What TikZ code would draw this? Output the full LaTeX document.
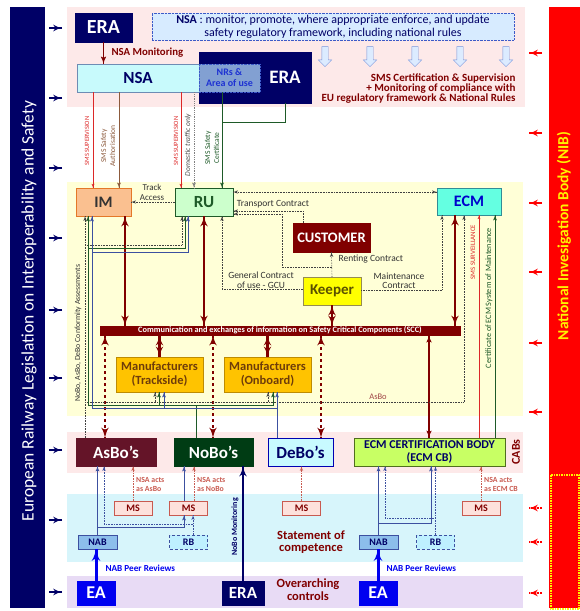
\documentclass[tikz,border=0pt]{standalone}
\usepackage{fontspec}
\setmainfont{Carlito}
\usepackage{tikz}
\usetikzlibrary{arrows}
\usetikzlibrary{decorations.markings}
\usetikzlibrary{shapes.arrows}
\definecolor{eranavy}{RGB}{0,0,102}
\definecolor{pinkband}{RGB}{253,233,233}
\definecolor{yellowband}{RGB}{255,255,215}
\definecolor{blueband}{RGB}{215,245,251}
\definecolor{lilacband}{RGB}{232,219,245}
\definecolor{maroon}{RGB}{128,0,0}
\definecolor{supred}{RGB}{220,40,40}
\definecolor{authbrown}{RGB}{140,90,60}
\definecolor{certgreen}{RGB}{30,90,40}
\definecolor{framefill}{RGB}{215,235,255}
\definecolor{frameblue}{RGB}{60,90,200}
\definecolor{nsafill}{RGB}{200,250,252}
\definecolor{nsadraw}{RGB}{110,140,180}
\definecolor{nrsfill}{RGB}{130,160,210}
\definecolor{nrstext}{RGB}{30,50,210}
\definecolor{imfill}{RGB}{250,192,144}
\definecolor{imdraw}{RGB}{228,120,40}
\definecolor{rufill}{RGB}{204,255,204}
\definecolor{ecmfill}{RGB}{100,255,225}
\definecolor{ecmdraw}{RGB}{50,140,150}
\definecolor{keeperfill}{RGB}{255,255,0}
\definecolor{keeperdraw}{RGB}{150,140,80}
\definecolor{keepertext}{RGB}{90,80,0}
\definecolor{mfrfill}{RGB}{255,195,0}
\definecolor{mfrdraw}{RGB}{190,140,0}
\definecolor{mfrtext}{RGB}{110,60,10}
\definecolor{asbofill}{RGB}{100,20,40}
\definecolor{nobofill}{RGB}{0,60,20}
\definecolor{debofill}{RGB}{200,250,255}
\definecolor{ecmcbfill}{RGB}{200,255,100}
\definecolor{ecmcbdraw}{RGB}{80,110,30}
\definecolor{msfill}{RGB}{253,225,220}
\definecolor{msdraw}{RGB}{200,90,80}
\definecolor{nabfill}{RGB}{140,190,235}
\definecolor{nabdraw}{RGB}{60,80,160}
\definecolor{rbfill}{RGB}{190,240,255}
\definecolor{eablue}{RGB}{0,0,240}
\definecolor{nibred}{RGB}{255,0,0}
\definecolor{hollowfill}{RGB}{220,235,255}
\definecolor{hollowdraw}{RGB}{120,150,220}
\definecolor{asbotext}{RGB}{160,70,70}
\newcommand{\fsz}[2]{\fontsize{#1}{#2}\selectfont}
\tikzset{->/.style = {decoration={markings,
                                  mark=at position 1 with {\arrow{latex'}}},
                      postaction={decorate}},
         <->/.style = {decoration={markings,
                                   mark=at position 0 with {\arrowreversed{latex'}},
                                   mark=at position 1 with {\arrow{latex'}}},
                       postaction={decorate}},
         box/.style = {draw, inner sep=1pt, align=center, font=\bfseries},
         dotline/.style = {densely dotted, semithick, black!75},
         bundlegreen/.style = {thick, certgreen},
         bundleblue/.style = {thick, nabdraw},
         msline/.style = {densely dotted, semithick, msdraw},
         nabline/.style = {thick, nabdraw},
         rbline/.style = {densely dotted, semithick, nabdraw},
         msbox/.style = {box, fill=msfill, draw=msdraw, text=maroon,
                         minimum width=38pt, minimum height=14pt, font=\fsz{10}{11}\bfseries},
         nabbox/.style = {box, fill=nabfill, draw=nabdraw, text=eranavy,
                          minimum width=39pt, minimum height=14pt, font=\fsz{10}{11}\bfseries},
         rbbox/.style = {box, fill=rbfill, draw=nabdraw, densely dashed, text=eranavy,
                         minimum width=38pt, minimum height=14pt, font=\fsz{10}{11}\bfseries},
         cabbox/.style = {box, minimum height=28pt, font=\fsz{17}{19}\bfseries},
         actslbl/.style = {anchor=west, inner sep=0pt, align=left, text=msdraw,
                           font=\fsz{7.8}{8.5}\bfseries},
         hollowdown/.style = {single arrow, draw=hollowdraw, fill=hollowfill, rotate=-90,
                              minimum height=20pt, inner xsep=0pt, inner ysep=3pt,
                              single arrow head extend=3.5pt}}
\begin{document}
\begin{tikzpicture}[x=1pt, y=-1pt]
      \useasboundingbox (0,0) rectangle (580,611);
      \fill[pinkband] (67,7) rectangle (525,107);
      \fill[yellowband] (67,182) rectangle (523,416);
      \fill[pinkband] (67,432) rectangle (523,473);
      \fill[blueband] (67,494) rectangle (523,562);
      \fill[lilacband] (67,576) rectangle (523,608);
      \fill[eranavy] (10,7) rectangle (45,608);
      \fill[nibred] (549,7) rectangle (580,608);
      \draw[yellow, densely dotted, line width=1.5pt] (551,475) rectangle (579,609);
      \node[rotate=90, text=white, font=\fsz{17.5}{20}] (eulaw) at (29,311)
        {European Railway Legislation on Interoperability and Safety};
      \node[rotate=90, text=yellow, font=\fsz{15.5}{18}\bfseries] (nib) at (564,236)
        {National Invesigation Body (NIB)};
      \foreach \y in {28,98,168,238,310,378,450,520,592}
        \draw[->, eranavy, line width=2pt] (49,\y) -- (62,\y);
      \foreach \y in {53,133,203,272,343,412}
        \draw[->, nibred, line width=2pt] (542,\y) -- (529,\y);
      \foreach \y in {508,542,593}
        \draw[->, nibred, line width=2pt, densely dotted] (542,\y) -- (529,\y);

      \node[box, fill=eranavy, draw=eranavy, text=white, minimum width=57pt, minimum height=29pt,
            font=\fsz{20}{22}\bfseries] (eratop) at (103.5,27.5) {ERA};
      \node[box, draw=frameblue, densely dotted, fill=framefill, minimum width=362pt, minimum height=27pt,
            text=eranavy, font=\fsz{12}{13}] (nsaframe) at (333,26.5)
        {\textbf{NSA} : monitor, promote, where appropriate enforce, and update\\
         safety regulatory framework, including national rules};
      \node[box, fill=nsafill, draw=nsadraw, text=eranavy, minimum width=122pt, minimum height=28pt,
            font=\fsz{17}{19}\bfseries] (nsa) at (138,78) {NSA};
      \node[box, fill=eranavy, draw=eranavy, minimum width=112pt, minimum height=51pt] (erabig) at (255,77.5) {};
      \node[text=white, font=\fsz{19}{21}\bfseries] (erabiglbl) at (285,77) {ERA};
      \node[box, fill=nrsfill, draw=frameblue, densely dotted, text=nrstext, minimum width=61pt,
            minimum height=28pt, font=\fsz{10}{11}\bfseries] (nrs) at (229.5,78) {NRs \&\\Area of use};
      \foreach \x [count=\i] in {325,370,415,460,506}
        \node[hollowdown] (down\i) at (\x,55) {};
      \node[anchor=east, align=right, text=maroon, font=\fsz{11}{10}\bfseries] (smscert) at (519,89)
        {SMS Certification \& Supervision\\+ Monitoring of compliance with\\EU regulatory framework \& National Rules};

      \node[rotate=90, text=supred, font=\fsz{6.5}{7.5}] (supim) at (87,141) {SMS SUPERVISION};
      \node[rotate=90, text=authbrown, font=\fsz{7.5}{9}, align=center] (authim) at (108,146) {SMS Safety\\Authorisation};
      \node[rotate=90, text=supred, font=\fsz{6.5}{7.5}] (supru) at (176,141) {SMS SUPERVISION};
      \node[rotate=90, text=black!70, font=\fsz{7.5}{8}\itshape] (domestic) at (188,145) {Domestic traffic only};
      \node[rotate=90, text=certgreen, font=\fsz{7.5}{9}, align=center] (certru) at (212,148) {SMS Safety\\Certificate};

      \node[box, fill=imfill, draw=imdraw, text=black!80, minimum width=55pt, minimum height=28pt,
            font=\fsz{16}{18}\bfseries] (im) at (103.5,202) {IM};
      \node[box, fill=rufill, draw=certgreen, text=certgreen, minimum width=58pt, minimum height=28pt,
            font=\fsz{17}{19}\bfseries] (ru) at (204,202) {RU};
      \node[box, fill=ecmfill, draw=ecmdraw, text=blue!80!black, minimum width=64pt, minimum height=27pt,
            font=\fsz{16}{18}\bfseries] (ecm) at (469,201.5) {ECM};
      \node[box, fill=maroon, draw=maroon, text=white, minimum width=77pt, minimum height=29pt,
            font=\fsz{14.5}{16}\bfseries] (customer) at (331.5,237.5) {CUSTOMER};
      \node[box, fill=keeperfill, draw=keeperdraw, text=keepertext, minimum width=58pt, minimum height=28pt,
            font=\fsz{15}{17}\bfseries] (keeper) at (332,291) {Keeper};
      \node[box, fill=maroon, draw=maroon, text=white, inner sep=0pt, minimum width=360pt, minimum height=9pt,
            font=\fsz{8.3}{8.5}\bfseries] (scc) at (280,330.5)
        {Communication and exchanges of information on Safety Critical Components (SCC)};
      \node[box, fill=mfrfill, draw=mfrdraw, text=mfrtext, minimum width=87pt, minimum height=35pt,
            font=\fsz{12.5}{14}\bfseries] (mtrack) at (159.5,374.5) {Manufacturers\\(Trackside)};
      \node[box, fill=mfrfill, draw=mfrdraw, text=mfrtext, minimum width=87pt, minimum height=35pt,
            font=\fsz{12.5}{14}\bfseries] (monboard) at (267.5,374.5) {Manufacturers\\(Onboard)};

      \node[align=center, text=black!80, font=\fsz{9}{10}] (trackacc) at (152,192) {Track\\Access};
      \node[text=black!80, font=\fsz{9.5}{10}] (transport) at (273,204) {Transport Contract};
      \node[anchor=west, text=black!80, font=\fsz{9.5}{10}] (renting) at (335,259) {Renting Contract};
      \node[align=center, text=black!80, font=\fsz{9.5}{9.5}] (gcu) at (261,280) {General Contract\\of use - GCU};
      \node[align=center, text=black!80, font=\fsz{9.5}{9.5}] (maint) at (399,281) {Maintenance\\Contract};
      \node[rotate=90, text=black!80, font=\fsz{7.8}{8}] (conform) at (78,333) {NoBo, AsBo, DeBo Conformity Assessments};
      \node[text=asbotext, font=\fsz{8.5}{9}] (asbolbl) at (378,397) {AsBo};
      \node[rotate=90, text=supred, font=\fsz{6.8}{7}] (surv) at (473,252) {SMS SURVEILLANCE};
      \node[rotate=90, text=certgreen, font=\fsz{8.2}{9}] (certecm) at (489,298) {Certificate of ECM System of Maintenance};

      \node[cabbox, fill=asbofill, draw=asbofill, text=white, minimum width=80pt] (asbo) at (116,452) {AsBo's};
      \node[cabbox, fill=nobofill, draw=nobofill, text=white, minimum width=79pt] (nobo) at (213.5,452) {NoBo's};
      \node[cabbox, fill=debofill, draw=blue!70!black, text=eranavy, minimum width=65pt] (debo) at (300.5,452) {DeBo's};
      \node[cabbox, fill=ecmcbfill, draw=ecmcbdraw, text=eranavy, minimum width=151pt,
            font=\fsz{12}{13}\bfseries] (ecmcb) at (429.5,452) {ECM CERTIFICATION BODY\\(ECM CB)};
      \node[rotate=90, text=maroon, font=\fsz{12}{13}\bfseries] (cabs) at (516,452) {CABs};

      \node[msbox] (ms1) at (133,508) {MS};
      \node[msbox] (ms2) at (188.5,508) {MS};
      \node[msbox] (ms3) at (301.5,508) {MS};
      \node[msbox] (ms4) at (481,508) {MS};
      \node[nabbox] (nab1) at (97.5,542) {NAB};
      \node[rbbox] (rb1) at (188.5,542) {RB};
      \node[nabbox] (nab2) at (378.5,542) {NAB};
      \node[rbbox] (rb2) at (435.5,542) {RB};
      \node[actslbl] (acts1) at (136,484.5) {NSA acts\\as AsBo};
      \node[actslbl] (acts2) at (197,484.5) {NSA acts\\as NoBo};
      \node[actslbl] (acts4) at (484,484.5) {NSA acts\\as ECM CB};
      \node[align=center, text=maroon, font=\fsz{12.5}{12.5}\bfseries] (soc) at (311,542) {Statement of\\competence};
      \node[align=center, text=maroon, font=\fsz{12.5}{12.5}\bfseries] (overarch) at (308,589.5) {Overarching\\controls};

      \node[box, fill=eablue, draw=eablue, text=white, minimum width=38pt, minimum height=24pt,
            font=\fsz{18}{20}\bfseries] (ea1) at (96,593) {EA};
      \node[box, fill=eablue, draw=eablue, text=white, minimum width=38pt, minimum height=24pt,
            font=\fsz{18}{20}\bfseries] (ea2) at (378,593) {EA};
      \node[box, fill=eranavy, draw=eranavy, text=white, minimum width=42pt, minimum height=24pt,
            font=\fsz{17}{19}\bfseries] (erabot) at (243,593) {ERA};
      \node[anchor=west, text=eablue, font=\fsz{9.2}{10}\bfseries] (peer1) at (102,568) {NAB Peer Reviews};
      \node[anchor=west, text=eablue, font=\fsz{9.2}{10}\bfseries] (peer2) at (383,568) {NAB Peer Reviews};
      \node[rotate=90, text=eranavy, font=\fsz{8}{9}\bfseries] (nobomon) at (235,527) {NoBo Monitoring};

      \draw[->, maroon, line width=1.5pt] (eratop.south) -- (eratop.south |- nsa.north);
      \node[anchor=west, text=maroon, font=\fsz{10.8}{11}\bfseries] (nsamon) at (108,52.5) {NSA Monitoring};
      \draw[->, supred] (93,0 |- nsa.south) -- (93,0 |- im.north);
      \draw[->, authbrown, thick] (119,0 |- nsa.south) -- (119,0 |- im.north);
      \draw[->, supred] (181,0 |- nsa.south) -- (181,0 |- ru.north);
      \draw[->, gray, densely dotted, thick] (194,0 |- nsa.south) -- (194,0 |- ru.north);
      \draw[->, certgreen, thick] (222,0 |- nrs.south) -- (222,0 |- ru.north);
      \draw[certgreen, thick] (285,0 |- erabig.south) -- (285,122) -- (222,122);

      \draw[->, dotline] (ru.west) -- (im.east);
      \draw[<->, dotline] (ru.east |- 0,192) -- (ecm.west |- 0,192);
      \draw[->, dotline] (303,0 |- customer.north) -- (303,211) -- (ru.east |- 0,211);
      \draw[->, dotline] (keeper.north |- 0,267) -- (282,267) -- (282,214) -- (ru.east |- 0,214);
      \draw[->, dotline] (keeper.north) -- (customer.south);
      \draw[->, dotline] (keeper.west |- 0,289) -- (222,289) -- (222,0 |- ru.south);
      \draw[->, dotline] (keeper.east |- 0,290) -- (442,290) -- (442,0 |- ecm.south);

      \draw[<->, maroon, line width=2.5pt] (125,0 |- im.south) -- (125,0 |- scc.north);
      \draw[<->, maroon, line width=2.5pt] (204,0 |- ru.south) -- (204,0 |- scc.north);
      \draw[<->, maroon, line width=2.5pt] (keeper.south) -- (keeper.south |- scc.north);
      \draw[<->, maroon, line width=2.5pt] (455,0 |- ecm.south) -- (455,0 |- scc.north);
      \draw[<->, maroon, line width=2.5pt] (mtrack.north) -- (mtrack.north |- scc.south);
      \draw[<->, maroon, line width=2.5pt] (monboard.north) -- (monboard.north |- scc.south);
      \draw[<->, maroon, line width=2.5pt, dashed] (105,0 |- scc.south) -- (105,0 |- asbo.north);
      \draw[<->, maroon, line width=2.5pt, dashed] (213,0 |- scc.south) -- (213,0 |- nobo.north);
      \draw[<->, maroon, line width=2.5pt, dashed] (321,0 |- scc.south) -- (321,0 |- debo.north);
      \draw[<->, maroon, line width=1.5pt] (429,0 |- scc.south) -- (429,0 |- ecmcb.north);

      \draw[->, supred] (479,0 |- ecmcb.north) -- (479,0 |- ecm.south);
      \draw[->, certgreen, thick] (495,0 |- ecmcb.north) -- (495,0 |- ecm.south);

      \draw[->, dotline] (85,0 |- asbo.north) -- (85,0 |- im.south);
      \draw[->, dotline] (85,245) -| (182,0 |- ru.south);
      \draw[->, dotline] (85,402) -| (464,0 |- ecm.south);
      \draw[->, dotline] (155,402) -- (155,0 |- mtrack.south);
      \draw[->, dotline] (268,402) -- (268,0 |- monboard.south);
      \draw[->, bundlegreen] (196,0 |- nobo.north) -- (196,405) -- (88,405) -- (88,0 |- im.south);
      \draw[->, bundlegreen] (88,248) -| (185,0 |- ru.south);
      \draw[->, bundlegreen] (159,405) -- (159,0 |- mtrack.south);
      \draw[->, bundlegreen] (196,405) -- (273,405) -- (273,0 |- monboard.south);
      \draw[->, bundleblue] (277,0 |- debo.north) -- (277,0 |- monboard.south);
      \draw[->, bundleblue] (277,408) -- (92,408) -- (92,0 |- im.south);
      \draw[->, bundleblue] (92,252) -| (188,0 |- ru.south);
      \draw[->, bundleblue] (164,408) -- (164,0 |- mtrack.south);

      \draw[->, msline] (ms1.north) -- (ms1.north |- asbo.south);
      \draw[->, msline] (194,0 |- ms2.north) -- (194,0 |- nobo.south);
      \draw[->, msline] (ms3.north) -- (ms3.north |- debo.south);
      \draw[->, msline] (ms4.north) -- (ms4.north |- ecmcb.south);
      \draw[->, nabline] (nab1.north) -- (nab1.north |- asbo.south);
      \draw[->, nabline] (nab1.north |- 0,527) -| (184,0 |- ms2.south);
      \draw[->, nabline] (184,0 |- ms2.north) -- (184,0 |- nobo.south);
      \draw[->, rbline] (193,0 |- rb1.north) -- (193,0 |- ms2.south);
      \draw[->, rbline] (193,524) -| (104,0 |- asbo.south);
      \draw[->, nabline] (nab2.north) -- (nab2.north |- ecmcb.south);
      \draw[->, nabline] (nab2.north |- 0,523) -| (431,0 |- ecmcb.south);
      \draw[->, rbline] (rb2.north) -- (rb2.north |- ecmcb.south);
      \draw[->, rbline] (rb2.north |- 0,518) -| (385,0 |- ecmcb.south);

      \draw[->, eablue, line width=3pt] (ea1.north) -- (ea1.north |- nab1.south);
      \draw[->, eablue, line width=3pt] (ea2.north) -- (ea2.north |- nab2.south);
      \draw[->, eranavy, line width=2.5pt] (erabot.north) -- (erabot.north |- nobo.south);
    \end{tikzpicture}
\end{document}
